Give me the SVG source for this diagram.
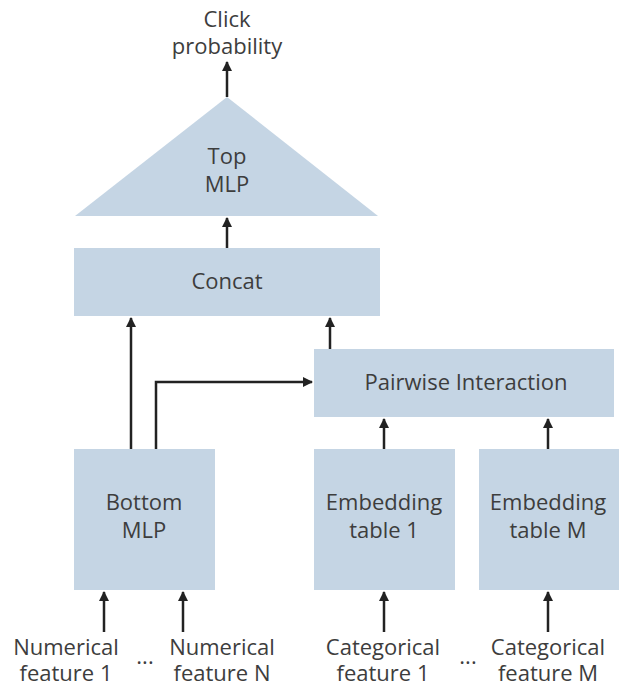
<svg xmlns="http://www.w3.org/2000/svg" width="619" height="686" viewBox="0 0 619 686">
<defs>
<marker id="ah" viewBox="0 0 10 10" refX="9" refY="5" markerWidth="10" markerHeight="10" markerUnits="userSpaceOnUse" orient="auto">
<path d="M0,0 L10,5 L0,10 z" fill="#222"/>
</marker>
<style>
.box{fill:#c5d5e4;}
.t{font-family:"Open Sans","Noto Sans",sans-serif;font-size:22px;fill:#3d3d3d;text-anchor:middle;}
.c{stroke:#222;stroke-width:2.5;fill:none;marker-end:url(#ah);}
</style>
</defs>
<rect width="619" height="686" fill="#fff"/>
<g id="output">
<text class="t" x="227" y="27" font-size="21">Click</text>
<text class="t" x="227" y="54" font-size="21">probability</text>
</g>
<g id="top-mlp">
<polygon class="box" points="227,97 75,216 378,216"/>
<text class="t" x="227" y="164">Top</text>
<text class="t" x="227" y="192">MLP</text>
</g>
<g id="concat">
<rect class="box" x="74" y="248" width="306" height="68"/>
<text class="t" x="227" y="289">Concat</text>
</g>
<g id="pairwise">
<rect class="box" x="314" y="349" width="300" height="68"/>
<text class="t" x="466" y="390">Pairwise Interaction</text>
</g>
<g id="bottom-mlp">
<rect class="box" x="74" y="449" width="141" height="141"/>
<text class="t" x="144" y="510">Bottom</text>
<text class="t" x="144" y="538">MLP</text>
</g>
<g id="emb1">
<rect class="box" x="314" y="449" width="141" height="141"/>
<text class="t" x="384" y="510">Embedding</text>
<text class="t" x="384" y="538">table 1</text>
</g>
<g id="embM">
<rect class="box" x="479" y="449" width="140" height="141"/>
<text class="t" x="548" y="510">Embedding</text>
<text class="t" x="548" y="538">table M</text>
</g>
<g id="inputs">
<text class="t" x="66" y="655">Numerical</text>
<text class="t" x="66" y="681">feature 1</text>
<text class="t" x="145" y="664">...</text>
<text class="t" x="222" y="655">Numerical</text>
<text class="t" x="222" y="681">feature N</text>
<text class="t" x="383" y="655">Categorical</text>
<text class="t" x="383" y="681">feature 1</text>
<text class="t" x="468" y="664">...</text>
<text class="t" x="548" y="655">Categorical</text>
<text class="t" x="548" y="681">feature M</text>
</g>
<g id="connectors">
<path class="c" d="M227,97 V62"/>
<path class="c" d="M227,248 V218"/>
<path class="c" d="M131,449 V318"/>
<path class="c" d="M156,449 V382 H312"/>
<path class="c" d="M330,349 V318"/>
<path class="c" d="M384,449 V419"/>
<path class="c" d="M548,449 V419"/>
<path class="c" d="M104,632 V592"/>
<path class="c" d="M183,632 V592"/>
<path class="c" d="M384,632 V592"/>
<path class="c" d="M548,632 V592"/>
</g>
</svg>
